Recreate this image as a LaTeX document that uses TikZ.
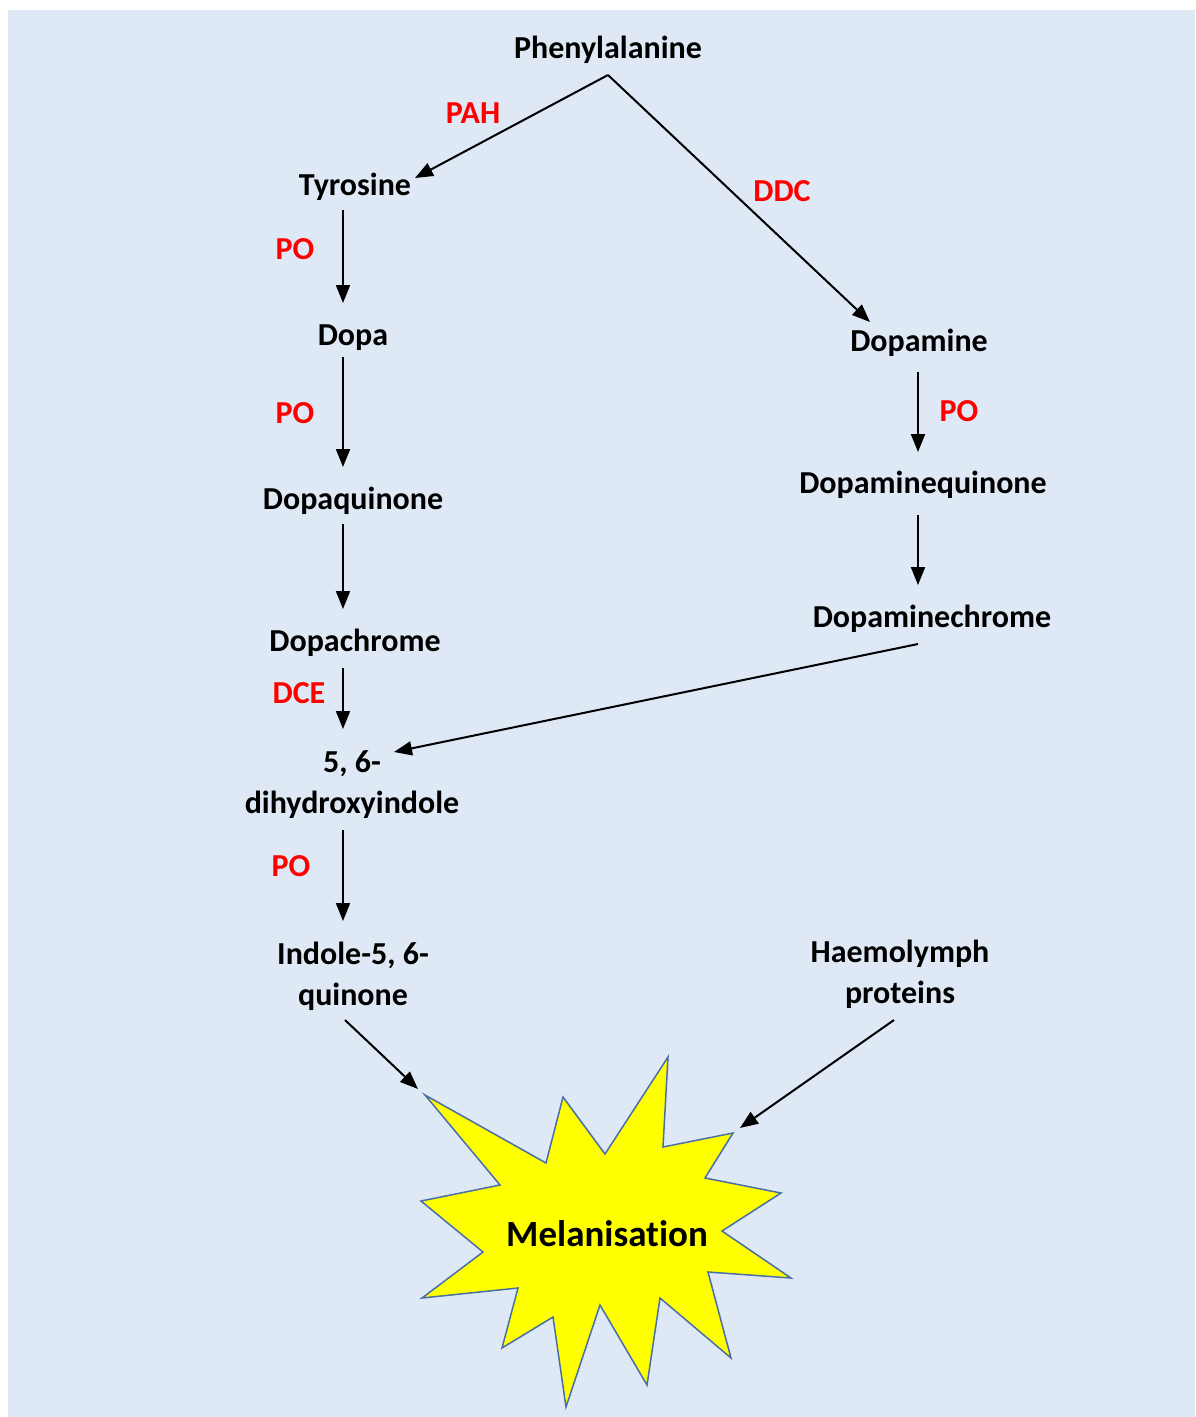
\documentclass[tikz,border=0pt]{standalone}
\usepackage{fontspec}
\setmainfont{Carlito}[Ligatures=NoCommon]
\usetikzlibrary{arrows.meta}
\definecolor{bgblue}{HTML}{DEE9F5}
\definecolor{starline}{HTML}{4A6FA5}
\definecolor{staryellow}{HTML}{FFFF00}
\begin{document}
\begin{tikzpicture}[x=1pt,y=-1pt,
  lbl/.style={font=\fontsize{32}{41}\selectfont\bfseries, align=center, inner sep=0pt, anchor=base},
  enz/.style={font=\fontsize{32}{38}\selectfont\bfseries, text=red, inner sep=0pt, anchor=base},
  arr/.style={draw=black, line width=2pt, -{Triangle[length=18pt,width=14pt]}}]
\useasboundingbox (0,0) rectangle (1195,1417);
\fill[white] (0,0) rectangle (1195,1417);
\fill[bgblue] (8,10) rectangle (1195,1417);
% star
\draw[starline, fill=staryellow, line width=1.5pt, line join=miter]
 (425,1095) -- (546,1163) -- (563,1097) -- (605,1154) -- (668,1057) -- (663,1147)
 -- (733,1133) -- (705,1178) -- (781,1193) -- (722,1231) -- (791,1278) -- (708,1272)
 -- (731,1358) -- (660,1298) -- (647,1385) -- (600,1305) -- (566,1407) -- (553,1317)
 -- (502,1348) -- (518,1288) -- (422,1298) -- (483,1252) -- (421,1201) -- (500,1185) -- cycle;
\node[font=\fontsize{37}{40}\selectfont\bfseries, inner sep=0pt, anchor=base] (mel) at (607,1246) {Melanisation};
% compounds
\node[lbl] (phe) at (608,58) {Phenylalanine};
\node[lbl] (tyr) at (355,195) {Tyrosine};
\node[lbl] (dopa) at (353,345) {Dopa};
\node[lbl] (dq) at (353,509) {Dopaquinone};
\node[lbl] (dc) at (355,651) {Dopachrome};
\node[lbl] (dhi) at (352,813) {5, 6-\\dihydroxyindole};
\node[lbl] (iq) at (353,1005) {Indole-5, 6-\\quinone};
\node[lbl] (dam) at (919,351) {Dopamine};
\node[lbl] (daq) at (923,493) {Dopaminequinone};
\node[lbl] (dac) at (932,627) {Dopaminechrome};
\node[lbl] (hp) at (900,1003) {Haemolymph\\proteins};
% enzymes
\node[enz] (pah) at (473,123) {PAH};
\node[enz] (ddc) at (782,201) {DDC};
\node[enz] (po1) at (295,259) {PO};
\node[enz] (po2) at (295,423) {PO};
\node[enz] (dce) at (299,703) {DCE};
\node[enz] (po3) at (291,876) {PO};
\node[enz] (po4) at (959,421) {PO};
% connector end points
\coordinate (apex) at (608,75);
\coordinate (tyrT) at (415,178);
\coordinate (damT) at (870,322);
\coordinate (tyrB) at (343,210); \coordinate (dopaT) at (343,303);
\coordinate (dopaB) at (343,357); \coordinate (dqT) at (343,467);
\coordinate (dqB) at (343,524); \coordinate (dcT) at (343,609);
\coordinate (dcB) at (343,668); \coordinate (dhiT) at (343,729);
\coordinate (dhiB) at (343,830); \coordinate (iqT) at (343,921);
\coordinate (damB) at (918,372); \coordinate (daqT) at (918,452);
\coordinate (daqB) at (918,515); \coordinate (dacT) at (918,585);
\coordinate (dacB) at (918,644); \coordinate (dhiR) at (394,752);
\coordinate (iqB) at (345,1020); \coordinate (starL) at (418,1089);
\coordinate (hpB) at (894,1020); \coordinate (starR) at (740,1128);
% connectors
\draw[arr] (apex) -- (tyrT);
\draw[arr] (apex) -- (damT);
\draw[arr] (tyrB) -- (dopaT);
\draw[arr] (dopaB) -- (dqT);
\draw[arr] (dqB) -- (dcT);
\draw[arr] (dcB) -- (dhiT);
\draw[arr] (dhiB) -- (iqT);
\draw[arr] (damB) -- (daqT);
\draw[arr] (daqB) -- (dacT);
\draw[arr] (dacB) -- (dhiR);
\draw[arr] (iqB) -- (starL);
\draw[arr] (hpB) -- (starR);
\end{tikzpicture}
\end{document}
